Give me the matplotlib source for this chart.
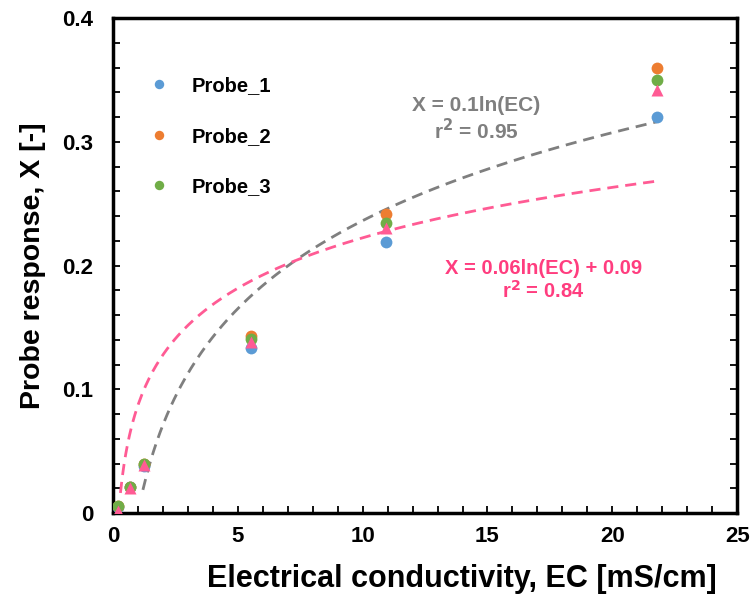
import numpy as np
import matplotlib
matplotlib.use("Agg")
import matplotlib.pyplot as plt
from matplotlib.ticker import MultipleLocator

plt.rcParams['font.family'] = ['Liberation Sans', 'DejaVu Sans']
plt.rcParams['font.weight'] = 'bold'

# Measured data
ec = [0.2, 0.68, 1.24, 5.53, 10.94, 21.8]
probe_1 = [0.005, 0.021, 0.038, 0.133, 0.219, 0.320]
probe_2 = [0.006, 0.021, 0.040, 0.143, 0.242, 0.360]
probe_3 = [0.006, 0.021, 0.040, 0.141, 0.234, 0.350]
probe_mean = [0.002, 0.020, 0.039, 0.138, 0.230, 0.342]

x_ticks = [0, 5, 10, 15, 20, 25]
y_ticks = [0, 0.1, 0.2, 0.3, 0.4]
y_tick_labels = ['0', '0.1', '0.2', '0.3', '0.4']

# Logarithmic fits X = a ln(EC) + b
fit_gray = dict(a=0.1026, b=0.0, r2=0.95, ec_min=1.2, ec_max=21.8)
fit_pink = dict(a=0.0588, b=0.087, r2=0.84, ec_min=0.3, ec_max=21.8)

c_blue = '#5b9bd5'
c_orange = '#ed7d31'
c_green = '#70ad47'
c_pink = '#ff5b94'
c_pink_text = '#ff3d7f'
c_gray = '#7f7f7f'

fig = plt.figure(figsize=(7.53, 6.0), dpi=100)
ax = fig.add_axes([0.150, 0.145, 0.829, 0.825])

for fit, col in ((fit_gray, c_gray), (fit_pink, c_pink)):
    xs = np.linspace(fit['ec_min'], fit['ec_max'], 300)
    ax.plot(xs, fit['a'] * np.log(xs) + fit['b'], ls=(0, (4, 2.5)),
            lw=2.0, color=col, zorder=2)

ax.plot(ec, probe_1, 'o', ms=8.5, color=c_blue, mec='none', label='Probe_1', zorder=3)
ax.plot(ec, probe_2, 'o', ms=8.5, color=c_orange, mec='none', label='Probe_2', zorder=3)
ax.plot(ec, probe_3, 'o', ms=8.5, color=c_green, mec='none', label='Probe_3', zorder=4)
ax.plot(ec, probe_mean, '^', ms=8.5, color=c_pink, mec='none', zorder=5)

ax.set_xlim(0, 25)
ax.set_ylim(0, 0.4)
ax.set_xticks(x_ticks)
ax.xaxis.set_minor_locator(MultipleLocator(1))
ax.set_yticks(y_ticks)
ax.set_yticklabels(y_tick_labels)
ax.yaxis.set_minor_locator(MultipleLocator(0.02))

for s in ax.spines.values():
    s.set_linewidth(2.5)
ax.tick_params(which='both', direction='in', length=5, width=1.3,
               right=True, top=False, labelsize=16)
ax.tick_params(axis='x', which='both', pad=9)
ax.tick_params(axis='y', which='both', pad=14)
for lbl in ax.get_xticklabels() + ax.get_yticklabels():
    lbl.set_fontweight('bold')

ax.set_xlabel('Electrical conductivity, EC [mS/cm]', fontsize=22, fontweight='bold')
ax.xaxis.set_label_coords(0.559, -0.104)
ax.set_ylabel('Probe response, X [-]', fontsize=20.5, fontweight='bold', labelpad=12)

leg = ax.legend(loc='upper left', bbox_to_anchor=(0.045, 0.898), frameon=False,
                prop={'weight': 'bold', 'size': 14.5}, markerscale=0.8,
                labelspacing=1.55, handletextpad=1.1, handlelength=1.0,
                borderaxespad=0)

ax.text(14.54, 0.318, f"X = {fit_gray['a']:.1f}ln(EC)\nr$^2$ = {fit_gray['r2']:.2f}",
        ha='center', va='center', color=c_gray, fontsize=15, fontweight='bold',
        linespacing=1.15)
ax.text(17.23, 0.188, f"X = {fit_pink['a']:.2f}ln(EC) + {fit_pink['b']:.2f}\nr$^2$ = {fit_pink['r2']:.2f}",
        ha='center', va='center', color=c_pink_text, fontsize=14.5, fontweight='bold',
        linespacing=1.15)

fig.savefig('out.png', dpi=100)
